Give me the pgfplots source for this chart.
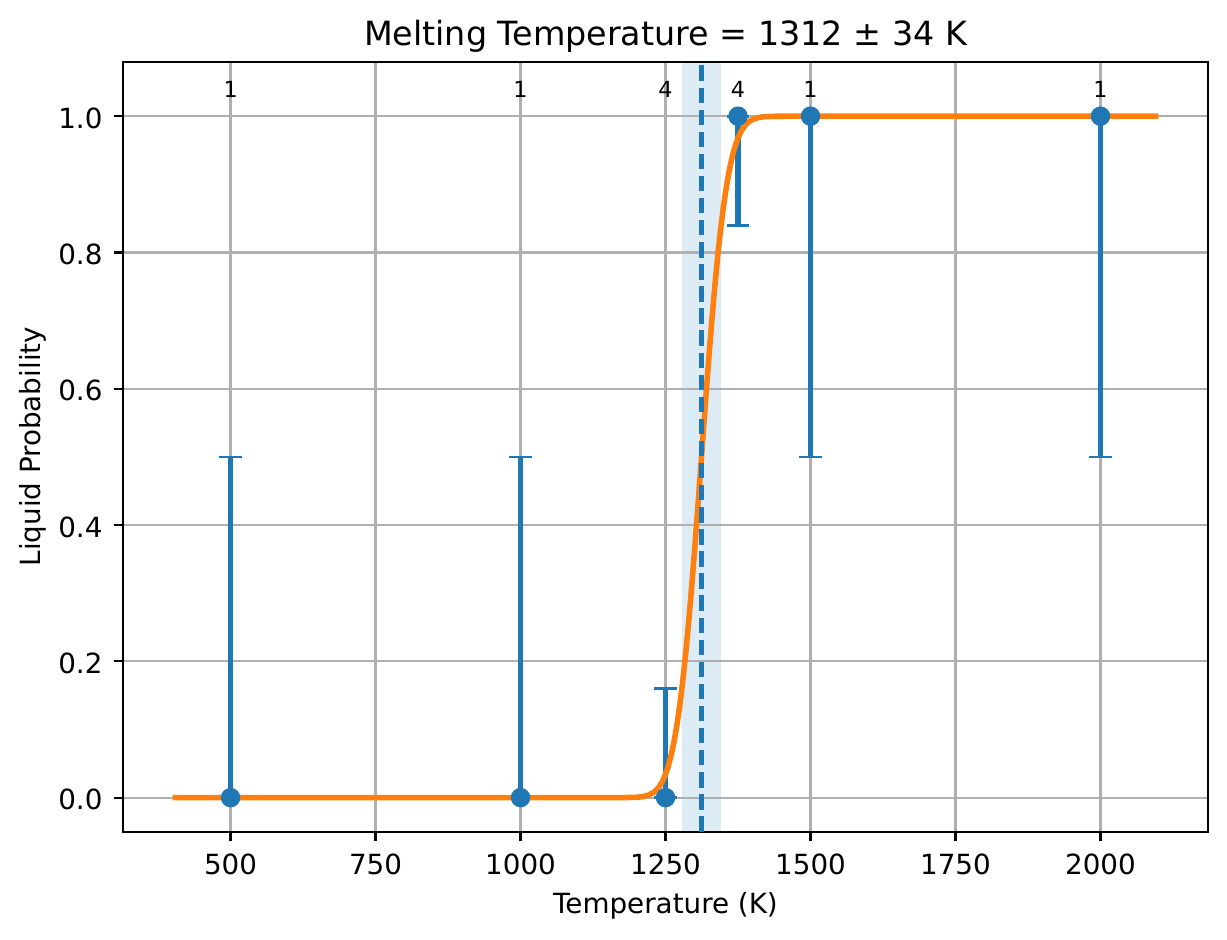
\documentclass[border=0pt]{standalone}
\usepackage{pgfplots}
\pgfplotsset{compat=1.18}
\usepackage{fontspec}
\setmainfont{DejaVu Sans}
\definecolor{C0}{HTML}{1F77B4}
\definecolor{C1}{HTML}{FF7F0E}
\definecolor{gridgray}{HTML}{B0B0B0}
\definecolor{bandblue}{RGB}{221,235,244}
\begin{document}
\begin{tikzpicture}
\begin{axis}[
  at={(44.39pt,38.63pt)}, anchor=south west,
  scale only axis, width=390.4pt, height=277.2pt,
  set layers=standard,
  xmin=315, xmax=2185, ymin=-0.05, ymax=1.08,
  xtick={500,750,1000,1250,1500,1750,2000},
  ytick={0,0.2,0.4,0.6,0.8,1.0},
  xtick pos=bottom, ytick pos=left,
  scaled x ticks=false, scaled y ticks=false,
  /pgf/number format/assume math mode=true,
  x tick label style={/pgf/number format/1000 sep={}},
  y tick label style={/pgf/number format/fixed, /pgf/number format/fixed zerofill, /pgf/number format/precision=1},
  tick label style={font=\fontsize{10}{12}\selectfont},
  xticklabel style={anchor=base, inner sep=0pt, yshift=-11.85pt},
  yticklabel style={anchor=base east, inner sep=0pt, xshift=-3.8pt, yshift=-4.4pt},
  tick align=outside, major tick length=3.5pt,
  every tick/.style={black, line width=0.8pt},
  axis line style={line width=0.8pt},
  grid=major,
  major grid style={gridgray, line width=0.8pt},
  title={Melting Temperature = 1312 ± 34 K},
  every axis title/.style={at={(axis description cs:0.5,1)}, anchor=base, inner sep=0pt, yshift=6pt, font=\fontsize{12}{14.4}\selectfont},
  xlabel={Temperature (K)},
  xlabel style={at={(axis description cs:0.5,-0.1057)}, anchor=base, inner sep=0pt, font=\fontsize{10}{12}\selectfont},
  ylabel={Liquid Probability},
  ylabel style={at={(axis description cs:-0.0761,0.5)}, anchor=base, inner sep=0pt, font=\fontsize{10}{12}\selectfont},
]
% shaded band 1312 +- 34
\addplot[on layer=axis background, draw=none, fill=bandblue, forget plot]
  coordinates {(1278,-0.05) (1346,-0.05) (1346,1.08) (1278,1.08)} -- cycle;
% error bars
\addplot[draw=none, mark=none, forget plot,
  error bars/.cd, y dir=both, y explicit,
  error bar style={line width=2pt, draw=C0},
  error mark options={line width=1pt, mark size=4pt, draw=C0, rotate=90}]
coordinates {
  (500,0)  += (0,0.5)  -= (0,0)
  (1000,0) += (0,0.5)  -= (0,0)
  (1250,0) += (0,0.16) -= (0,0)
  (1375,1) += (0,0)    -= (0,0.16)
  (1500,1) += (0,0)    -= (0,0.5)
  (2000,1) += (0,0)    -= (0,0.5)
};
% fitted normal CDF
\addplot[C1, line width=2pt, mark=none] coordinates {
(400,0) (1100,0) (1150,0.000001) (1180,0.00005) (1200,0.00049) (1210,0.00135)
(1220,0.0034) (1230,0.0079) (1235,0.0118) (1240,0.0171) (1245,0.0244) (1250,0.0341)
(1255,0.0469) (1260,0.0631) (1265,0.0835) (1270,0.1084) (1275,0.1383) (1280,0.1735)
(1285,0.2136) (1290,0.2588) (1295,0.3085) (1300,0.3620) (1305,0.4184) (1310,0.4765)
(1312,0.5) (1315,0.5351) (1320,0.5930) (1325,0.6488) (1330,0.7017) (1335,0.7506)
(1340,0.7949) (1345,0.8342) (1350,0.8682) (1355,0.8970) (1360,0.9210) (1365,0.9405)
(1370,0.9560) (1375,0.9681) (1380,0.9772) (1385,0.9841) (1390,0.9891) (1395,0.9927)
(1400,0.9952) (1410,0.9980) (1420,0.99925) (1440,0.99992) (1460,1) (2100,1)
};
% melting temperature
\addplot[C0, line width=1.5pt, dash pattern=on 5.55pt off 2.4pt, mark=none]
  coordinates {(1312,-0.05) (1312,1.08)};
% data points
\addplot[C0, only marks, mark=*, mark size=3.3pt, mark options={solid, fill=C0, draw=C0, line width=0.4pt}]
coordinates {(500,0) (1000,0) (1250,0) (1375,1) (1500,1) (2000,1)};
% counts
\addplot[draw=none, mark=none,
  nodes near coords, point meta=explicit symbolic,
  every node near coord/.append style={anchor=base, inner sep=0pt, font=\fontsize{8}{9.6}\selectfont, text=black}]
coordinates {(500,1.027)[1] (1000,1.027)[1] (1250,1.027)[4] (1375,1.027)[4] (1500,1.027)[1] (2000,1.027)[1]};
\end{axis}
\pgfresetboundingbox
\path[use as bounding box] (0,0) rectangle (441.72pt,338.04pt);
\end{tikzpicture}
\end{document}
